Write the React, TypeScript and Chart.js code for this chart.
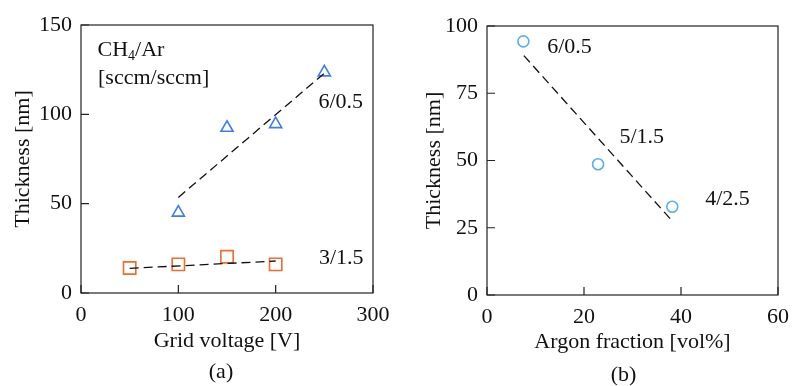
import React, { useEffect, useRef } from "react";
import { Chart, registerables } from "chart.js";

Chart.register(...registerables);

// ---- Data: (a) grid voltage ----
const voltageTri = [100, 150, 200, 250];
const thickTri = [45, 92.5, 94.5, 123.5];
const voltageSq = [50, 100, 150, 200];
const thickSq = [14, 16, 20.3, 16];
const trendTriX = [100, 250];
const trendTriY = [53.5, 123];
const trendSqX = [50, 200];
const trendSqY = [13.8, 17.9];

// ---- Data: (b) argon fraction ----
const argonX = [7.5, 22.9, 38.2];
const thickCirc = [94.3, 48.6, 32.8];
const trendArX = [7.6, 37.8];
const trendArY = [89, 28.3];

const FONT = "'Liberation Serif', 'Times New Roman', serif";
const BLACK = "#111111";

type Label = { text: string; x: number; y: number; sub?: string; rest?: string };

const pts = (xs: number[], ys: number[]) => xs.map((x, i) => ({ x, y: ys[i] }));

function makeFramePlugin(labels: Label[], caption: string, captionDx: number, captionY: number) {
  return {
    id: "frameAndLabels",
    afterDraw(chart: any) {
      const { ctx, chartArea, scales } = chart;
      const { left, top, right, bottom } = chartArea;
      ctx.save();
      ctx.strokeStyle = "#222";
      ctx.lineWidth = 1.2;
      ctx.strokeRect(left, top, right - left, bottom - top);
      // inward ticks
      const tl = 8;
      ctx.beginPath();
      scales.x.ticks.forEach((t: any) => {
        const px = scales.x.getPixelForValue(t.value);
        ctx.moveTo(px, bottom);
        ctx.lineTo(px, bottom - tl);
      });
      scales.y.ticks.forEach((t: any) => {
        const py = scales.y.getPixelForValue(t.value);
        ctx.moveTo(left, py);
        ctx.lineTo(left + tl, py);
      });
      ctx.stroke();
      // text labels
      ctx.fillStyle = BLACK;
      ctx.textBaseline = "middle";
      ctx.textAlign = "left";
      labels.forEach((l) => {
        const px = scales.x.getPixelForValue(l.x);
        const py = scales.y.getPixelForValue(l.y);
        ctx.font = `22px ${FONT}`;
        ctx.fillText(l.text, px, py);
        if (l.sub) {
          let cx = px + ctx.measureText(l.text).width;
          ctx.font = `14px ${FONT}`;
          ctx.fillText(l.sub, cx, py + 6);
          cx += ctx.measureText(l.sub).width;
          ctx.font = `22px ${FONT}`;
          ctx.fillText(l.rest || "", cx, py);
        }
      });
      // caption
      ctx.textAlign = "center";
      ctx.font = `22px ${FONT}`;
      ctx.fillText(caption, (left + right) / 2 + captionDx, captionY);
      ctx.restore();
    },
  };
}

function baseScale(min: number, max: number, step: number, fit: (s: any) => void, title: string, titlePad: any, tickPad: number) {
  return {
    type: "linear" as const,
    min,
    max,
    ticks: { stepSize: step, color: BLACK, font: { family: FONT, size: 22 }, padding: tickPad },
    grid: { display: false, drawTicks: false },
    border: { display: false },
    title: { display: true, text: title, color: BLACK, font: { family: FONT, size: 22 }, padding: titlePad },
    afterFit: fit,
  };
}

const dash = (xs: number[], ys: number[]) => ({
  data: pts(xs, ys),
  showLine: true,
  pointRadius: 0,
  borderColor: BLACK,
  borderWidth: 1.3,
  borderDash: [9, 5],
  fill: false,
});

export default function App() {
  const leftRef = useRef<HTMLCanvasElement>(null);
  const rightRef = useRef<HTMLCanvasElement>(null);

  useEffect(() => {
    const leftLabels: Label[] = [
      { text: "CH", sub: "4", rest: "/Ar", x: 17, y: 136 },
      { text: "[sccm/sccm]", x: 17.5, y: 120 },
      { text: "6/0.5", x: 244, y: 107 },
      { text: "3/1.5", x: 244.5, y: 19.4 },
    ];
    const rightLabels: Label[] = [
      { text: "6/0.5", x: 12.4, y: 92.2 },
      { text: "5/1.5", x: 27.3, y: 58.7 },
      { text: "4/2.5", x: 45, y: 35.7 },
    ];

    const left = new Chart(leftRef.current!, {
      type: "scatter",
      data: {
        datasets: [
          dash(trendTriX, trendTriY) as any,
          {
            data: pts(voltageTri, thickTri),
            pointStyle: "triangle",
            pointRadius: 7,
            pointBorderColor: "#3D7CF2",
            pointBackgroundColor: "rgba(0,0,0,0)",
            pointBorderWidth: 1.6,
          },
          dash(trendSqX, trendSqY) as any,
          {
            data: pts(voltageSq, thickSq),
            pointStyle: "rect",
            pointRadius: 8.7,
            pointBorderColor: "#F26B2B",
            pointBackgroundColor: "rgba(0,0,0,0)",
            pointBorderWidth: 1.6,
          },
        ],
      },
      options: {
        responsive: false,
        animation: false,
        layout: { padding: { left: 0, top: 25, right: 27, bottom: 0 } },
        plugins: { legend: { display: false }, tooltip: { enabled: false } },
        scales: {
          x: baseScale(0, 300, 100, (s) => { s.height = 93; }, "Grid voltage [V]", { top: 0, bottom: 32 }, 9) as any,
          y: baseScale(0, 150, 50, (s) => { s.width = 81; }, "Thickness [nm]", { top: 10, bottom: 0 }, 9) as any,
        },
      },
      plugins: [makeFramePlugin(leftLabels, "(a)", -6, 372)],
    });

    const right = new Chart(rightRef.current!, {
      type: "scatter",
      data: {
        datasets: [
          dash(trendArX, trendArY) as any,
          {
            data: pts(argonX, thickCirc),
            pointStyle: "circle",
            pointRadius: 5.5,
            pointBorderColor: "#5BAEF4",
            pointBackgroundColor: "rgba(0,0,0,0)",
            pointBorderWidth: 1.6,
          },
        ],
      },
      options: {
        responsive: false,
        animation: false,
        layout: { padding: { left: 0, top: 26, right: 12, bottom: 0 } },
        plugins: { legend: { display: false }, tooltip: { enabled: false } },
        scales: {
          x: baseScale(0, 60, 20, (s) => { s.height = 91; }, "Argon fraction [vol%]", { top: 0, bottom: 31 }, 9) as any,
          y: baseScale(0, 100, 25, (s) => { s.width = 87; }, "Thickness [nm]", { top: 21, bottom: 0 }, 9) as any,
        },
      },
      plugins: [makeFramePlugin(rightLabels, "(b)", -9, 375)],
    });

    return () => {
      left.destroy();
      right.destroy();
    };
  }, []);

  return (
    <div style={{ position: "fixed", left: 0, top: 0, width: 798, height: 386, background: "#fff" }}>
      <canvas ref={leftRef} width={400} height={386} style={{ position: "absolute", left: 0, top: 0 }} />
      <canvas ref={rightRef} width={398} height={386} style={{ position: "absolute", left: 400, top: 0 }} />
    </div>
  );
}
